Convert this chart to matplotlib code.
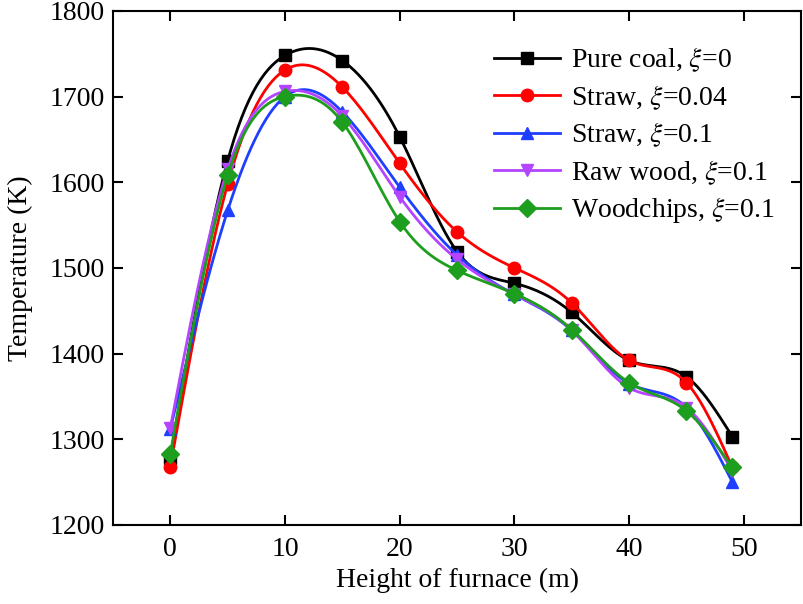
import numpy as np
import matplotlib
matplotlib.use("Agg")
import matplotlib.pyplot as plt

plt.rcParams['font.family'] = ['Liberation Serif', 'DejaVu Serif']
plt.rcParams['mathtext.fontset'] = 'stix'

# data
height = [0, 5, 10, 15, 20, 25, 30, 35, 40, 45, 49]
pure_coal = [1278, 1625, 1748, 1742, 1653, 1519, 1482, 1448, 1392, 1373, 1303]
straw_004 = [1268, 1598, 1731, 1711, 1622, 1542, 1500, 1459, 1392, 1366, 1267]
straw_01 = [1312, 1567, 1700, 1682, 1594, 1515, 1469, 1427, 1365, 1337, 1250]
raw_wood = [1313, 1615, 1706, 1677, 1583, 1510, 1469, 1427, 1360, 1337, 1263]
woodchips = [1283, 1608, 1700, 1670, 1554, 1497, 1470, 1428, 1366, 1333, 1267]

labels = ["Pure coal, $\\xi$=0", "Straw, $\\xi$=0.04", "Straw, $\\xi$=0.1",
          "Raw wood, $\\xi$=0.1", "Woodchips, $\\xi$=0.1"]
colors = ["black", "#FF0000", "#1F3FFF", "#B444FF", "#1E9E1E"]
markers = ["s", "o", "^", "v", "D"]


def spline(x, y, n=300):
    # natural cubic spline, only used to draw the smooth connecting line
    x = np.asarray(x, float); y = np.asarray(y, float)
    k = len(x); h = np.diff(x)
    A = np.zeros((k, k)); b = np.zeros(k)
    A[0, 0] = A[-1, -1] = 1
    for i in range(1, k - 1):
        A[i, i - 1] = h[i - 1]
        A[i, i] = 2 * (h[i - 1] + h[i])
        A[i, i + 1] = h[i]
        b[i] = 6 * ((y[i + 1] - y[i]) / h[i] - (y[i] - y[i - 1]) / h[i - 1])
    M = np.linalg.solve(A, b)
    xs = np.linspace(x[0], x[-1], n)
    idx = np.clip(np.searchsorted(x, xs) - 1, 0, k - 2)
    x0, x1 = x[idx], x[idx + 1]; hh = x1 - x0
    ys = (M[idx] * (x1 - xs) ** 3 / (6 * hh) + M[idx + 1] * (xs - x0) ** 3 / (6 * hh)
          + (y[idx] / hh - M[idx] * hh / 6) * (x1 - xs)
          + (y[idx + 1] / hh - M[idx + 1] * hh / 6) * (xs - x0))
    return xs, ys


fig = plt.figure(figsize=(8.04, 6.04), dpi=100)
ax = fig.add_axes([0.1405, 0.131, 0.856, 0.851])

series = [pure_coal, straw_004, straw_01, raw_wood, woodchips]
for vals, lab, c, m in zip(series, labels, colors, markers):
    xs, ys = spline(height, vals)
    ax.plot(xs, ys, color=c, lw=2.0)
    ax.plot(height, vals, linestyle='none', marker=m, color=c, ms=9)
    ax.plot([], [], color=c, lw=2.0, marker=m, ms=9, label=lab)

ax.set_xlim(-5, 55)
ax.set_ylim(1200, 1800)
ax.set_xticks(range(0, 51, 10))
ax.set_yticks(range(1200, 1801, 100))
ax.tick_params(direction='in', length=7, width=1.5, labelsize=20,
               top=True, right=True)
ax.tick_params(axis='x', pad=9)
ax.tick_params(axis='y', pad=6)
for s in ax.spines.values():
    s.set_linewidth(1.5)
ax.set_xlabel("Height of furnace (m)", fontsize=20, labelpad=4)
ax.set_ylabel("Temperature (K)", fontsize=20, labelpad=12)

ax.legend(loc='upper right', frameon=False, fontsize=20, handlelength=2.4,
          labelspacing=0.32, handletextpad=0.4, borderaxespad=0.3,
          bbox_to_anchor=(0.99, 0.97))

fig.savefig("out.png", dpi=100)
